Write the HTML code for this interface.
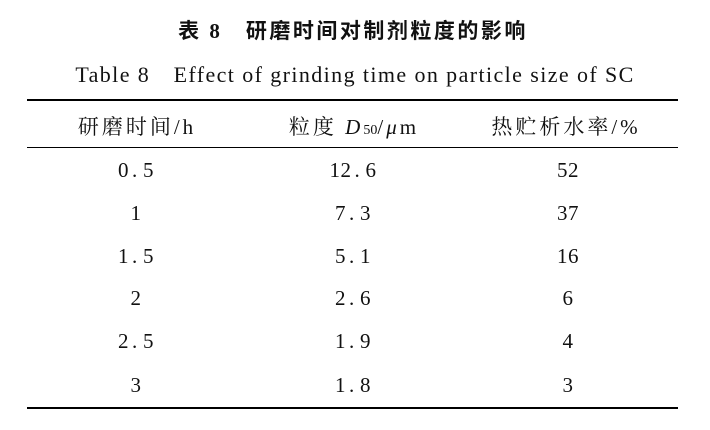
<!DOCTYPE html>
<html><head><meta charset="utf-8"><style>
body{margin:0;width:710px;height:430px;background:#fff;position:relative;overflow:hidden;font-family:"Liberation Serif","Noto Serif CJK SC",serif;color:#111}
.t{position:absolute;white-space:nowrap;transform:translateX(-50%)}
.r{position:absolute;left:27px;width:651px;background:#000}
.c{font-size:21px;letter-spacing:0.5px}
.c b{font-weight:normal;display:inline-block;width:14px;text-align:left;padding-left:3px;box-sizing:border-box}
.h{font-size:21px;letter-spacing:3px}
</style></head><body>
<div class="t" style="left:353px;top:15px;font-size:21px;letter-spacing:2.5px;font-weight:bold;font-family:'Liberation Serif','Noto Sans CJK SC',sans-serif">表 8　研磨时间对制剂粒度的影响</div>
<div class="t" style="left:355px;top:58px;font-size:22px;letter-spacing:1.4px">Table 8　Effect of grinding time on particle size of SC</div>
<div class="r" style="top:99px;height:2px"></div>
<div class="r" style="top:147px;height:1px"></div>
<div class="r" style="top:407px;height:2px"></div>
<div class="t h" style="left:137px;top:111px">研磨时间/h</div>
<div class="t h" style="left:354px;top:111px">粒度 <i>D</i><span style="font-size:14px;letter-spacing:0">50</span>/<i>μ</i>m</div>
<div class="t h" style="left:566px;top:111px">热贮析水率/%</div>
<div class="t c" style="left:136px;top:158px">0<b>.</b>5</div><div class="t c" style="left:353px;top:158px">12<b>.</b>6</div><div class="t c" style="left:568px;top:158px">52</div>
<div class="t c" style="left:136px;top:201px">1</div><div class="t c" style="left:353px;top:201px">7<b>.</b>3</div><div class="t c" style="left:568px;top:201px">37</div>
<div class="t c" style="left:136px;top:244px">1<b>.</b>5</div><div class="t c" style="left:353px;top:244px">5<b>.</b>1</div><div class="t c" style="left:568px;top:244px">16</div>
<div class="t c" style="left:136px;top:286px">2</div><div class="t c" style="left:353px;top:286px">2<b>.</b>6</div><div class="t c" style="left:568px;top:286px">6</div>
<div class="t c" style="left:136px;top:329px">2<b>.</b>5</div><div class="t c" style="left:353px;top:329px">1<b>.</b>9</div><div class="t c" style="left:568px;top:329px">4</div>
<div class="t c" style="left:136px;top:373px">3</div><div class="t c" style="left:353px;top:373px">1<b>.</b>8</div><div class="t c" style="left:568px;top:373px">3</div>
</body></html>
